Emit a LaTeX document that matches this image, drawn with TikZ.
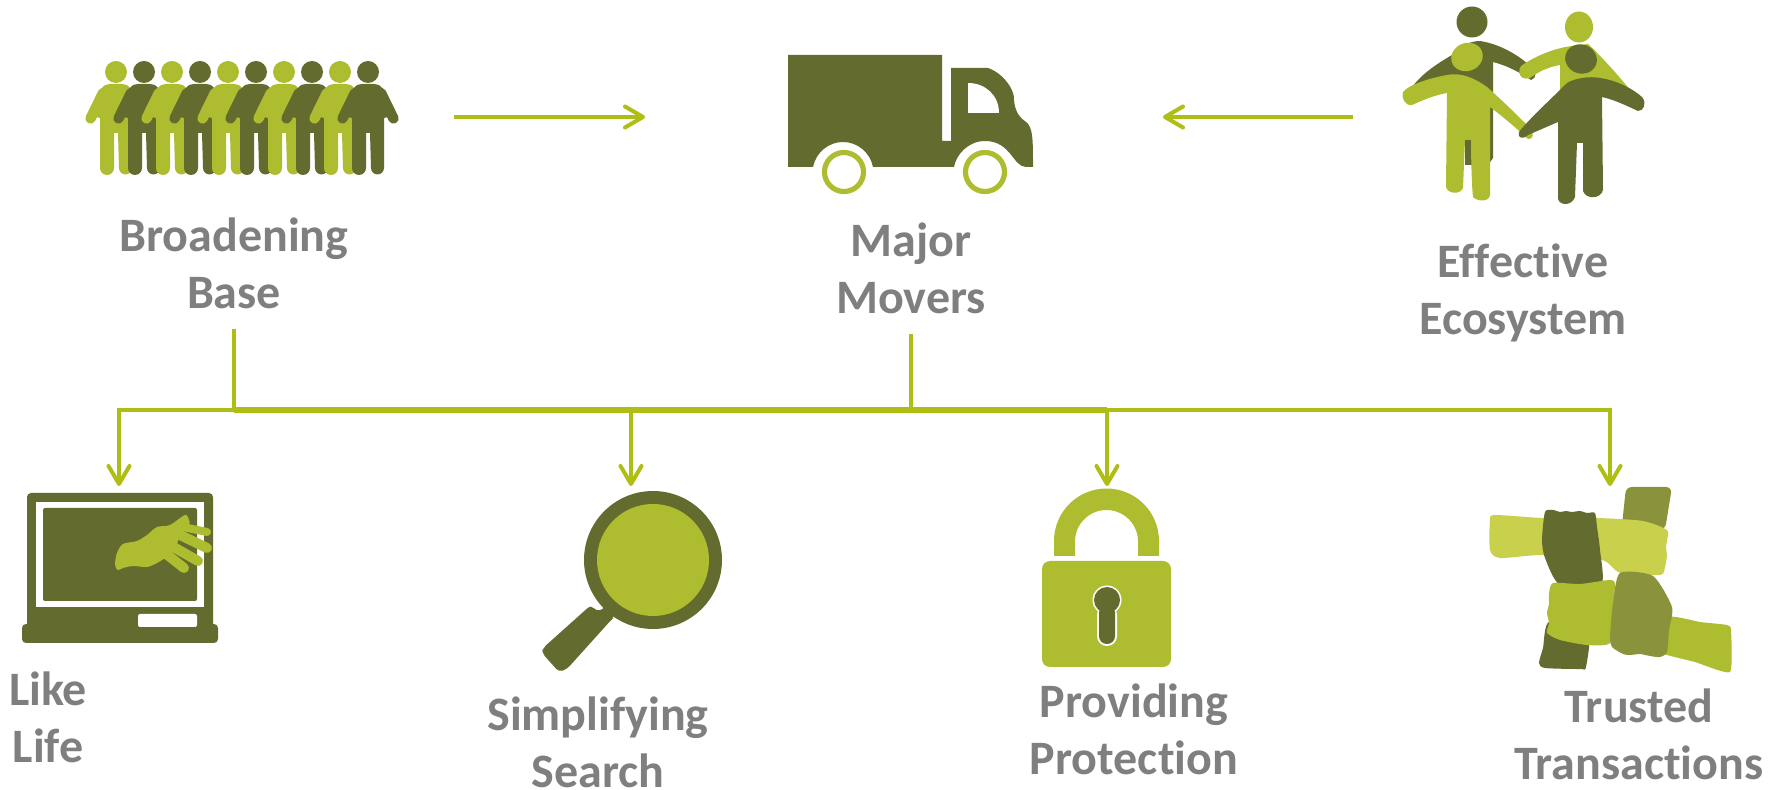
\documentclass[tikz,border=0pt]{standalone}
\usepackage{fontspec}
\setmainfont{Carlito}[Ligatures=CommonOff]
\usetikzlibrary{arrows.meta,calc,positioning}
\definecolor{leaf}{HTML}{AEBC2F}
\definecolor{olive}{HTML}{646B2E}
\definecolor{moss}{HTML}{8A933C}
\definecolor{lime}{HTML}{C9D04B}
\definecolor{wire}{HTML}{AEBE14}
\definecolor{caption}{HTML}{7F7F7F}
\tikzset{
  lbl/.style={font=\fontsize{24}{28.5}\selectfont\bfseries, text=caption, align=center, inner sep=0pt},
  link/.style={draw=wire, line width=2pt, -{Straight Barb[length=9pt,width=10.5pt,line width=2pt,round]}},
  rail/.style={draw=wire, line width=2pt},
  bus/.style={draw=wire, line width=2.9pt},
  limb/.style={line width=#1, line cap=round, line join=round},
  limb/.default=5.2pt
}
\newcommand{\figureman}[2]{% x of the head, colour
  \fill[#2] (#1,72) circle (11);
  \fill[#2] (#1-16,118) -- (#1-24,116) -- (#1-14,88) .. controls (#1-12,85) and (#1-9,84) .. (#1-6,84) -- (#1+6,84)
    .. controls (#1+9,84) and (#1+12,85) .. (#1+14,88) -- (#1+24,116) -- (#1+16,118) -- (#1+16,168) arc (0:180:6.5)
    -- (#1+2,133) -- (#1-2,133) -- (#1-2,168) arc (0:180:7) -- cycle;
  \draw[#2,limb] (#1-13,93) -- (#1-25.5,118.5);
  \draw[#2,limb] (#1+13,93) -- (#1+25.5,118.5);
}
\begin{document}
\begin{tikzpicture}[x=0.5pt,y=-0.5pt]
  \useasboundingbox (0,0) rectangle (1779,790);

  % crowd
  \foreach \cx/\cc in {116/leaf,144/olive,172/leaf,200/olive,228/leaf,256/olive,284/leaf,312/olive,340/leaf,368/olive}{
    \figureman{\cx}{\cc}
  }

  % truck
  \fill[olive] (788,55) -- (942,55) -- (942,141) -- (951,141) -- (951,68) -- (988,68)
    .. controls (1003,73) and (1015,90) .. (1014,100)
    .. controls (1015,112) and (1020,118) .. (1026,122)
    .. controls (1033,127) and (1033,140) .. (1033,167)
    -- (1026,167) .. controls (1013,167) and (1011,141) .. (985,141)
    .. controls (968,141) and (956,155) .. (954,167)
    -- (873,167) .. controls (870,152) and (857,142) .. (843,142)
    .. controls (829,142) and (816,152) .. (813,167) -- (788,167) -- cycle;
  \fill[white] (968,83) .. controls (985,83) and (999,95) .. (999,113) -- (968,113) -- cycle;
  \draw[leaf,line width=2.6pt] (844,172) circle (19.5);
  \draw[leaf,line width=2.6pt] (985,172) circle (19.5);

  % ecosystem people
  \fill[olive] (1472,22) circle (15.5);
  \fill[olive] (1410,90) .. controls (1420,75) and (1435,65) .. (1452,55)
    .. controls (1460,46) and (1470,41) .. (1480,41) .. controls (1500,44) and (1520,56) .. (1530,66)
    .. controls (1537,72) and (1537,78) .. (1531,80) .. controls (1520,72) and (1505,65) .. (1493,62)
    -- (1493,158) -- (1488,165) -- (1465,165) -- (1465,120) -- (1450,78) -- cycle;
  \fill[leaf] (1579,27) ellipse (14 and 15.5);
  \fill[leaf] (1521,66) .. controls (1535,56) and (1555,48) .. (1572,46) -- (1588,44)
    .. controls (1600,55) and (1618,75) .. (1631,91) -- (1598,85) -- (1560,90) -- (1560,65)
    .. controls (1548,67) and (1538,72) .. (1530,78) .. controls (1520,81) and (1517,72) .. (1521,66) -- cycle;
  \fill[leaf,rotate around={20:(1467,57)}] (1467,57) ellipse (16 and 14);
  \fill[leaf] (1403,92) .. controls (1408,85) and (1430,78) .. (1447,75) .. controls (1460,72) and (1475,78) .. (1487,87)
    .. controls (1505,103) and (1520,118) .. (1530,128) .. controls (1535,133) and (1533,140) .. (1528,139)
    .. controls (1525,136) and (1505,118) .. (1490,107) -- (1490,195)
    .. controls (1489,202) and (1478,202) .. (1473,197) .. controls (1472,190) and (1471,160) .. (1471,140)
    -- (1465,140) -- (1463,188) .. controls (1460,195) and (1448,194) .. (1446,187) -- (1447,93)
    .. controls (1435,95) and (1423,100) .. (1412,105) .. controls (1405,106) and (1401,98) .. (1403,92) -- cycle;
  \fill[olive,rotate around={-20:(1581,59)}] (1581,59) ellipse (16 and 14.5);
  \fill[olive] (1519,132) .. controls (1530,118) and (1550,100) .. (1567,83) .. controls (1575,78) and (1590,76) .. (1600,78)
    .. controls (1615,80) and (1632,88) .. (1642,97) .. controls (1647,103) and (1644,111) .. (1638,111)
    .. controls (1625,105) and (1615,100) .. (1602,97) -- (1603,190)
    .. controls (1601,199) and (1586,200) .. (1583,191) -- (1583,143) -- (1577,143) -- (1575,197)
    .. controls (1572,206) and (1560,206) .. (1558,199) -- (1558,122) -- (1528,135)
    .. controls (1523,140) and (1517,138) .. (1519,132) -- cycle;

  % laptop
  \fill[olive,rounded corners=2pt] (27,493) rectangle (213,630);
  \fill[olive,rounded corners=2pt] (22,624) rectangle (218,643);
  \fill[white] (36,502) rectangle (204,607);
  \fill[olive,rounded corners=1pt] (43,508) rectangle (197,601);
  \fill[white,rounded corners=1pt] (138,614) rectangle (197,627);
  \fill[leaf] plot[smooth cycle,tension=0.5] coordinates {(115,565) (117,553) (123,544) (137,541) (147,535) (157,527) (170,525) (185,515) (189,520) (189,525) (180,535) (175,550) (165,558) (157,563) (147,567) (133,566) (123,568) (118,570)};
  \draw[leaf,limb=4pt] (178,526) -- (207,532);
  \draw[leaf,limb=5pt] (178,534) -- (207,548);
  \draw[leaf,limb=5pt] (170,545) -- (198,561);
  \draw[leaf,limb=5pt] (165,553) -- (184,568);

  % magnifier
  \fill[olive] (653,560) circle (69);
  \fill[leaf] (653,560) circle (56);
  \fill[olive,rounded corners=2pt] (591,605) -- (596,611) -- (602,610) -- (607,605) -- (615,617) -- (612,619) -- (567,669) -- (559,672) -- (542,653) -- (543,648) -- cycle;

  % padlock
  \fill[leaf] (1054,556) -- (1054,541) arc (180:360:52.5) -- (1159,556) -- (1138,556) -- (1138,541.5) arc (360:180:31.5) -- (1075,556) -- cycle;
  \fill[leaf,rounded corners=4pt] (1042,561) rectangle (1171,667);
  \fill[white] (1107,600) circle (14.5);
  \fill[white,rounded corners=4.9pt] (1097,605) rectangle (1117,646);
  \fill[olive] (1107,600) circle (13);
  \fill[olive,rounded corners=3.9pt] (1099,605) rectangle (1115,644);

  % hands
  \fill[moss,rounded corners=3pt] (1626,487) -- (1672,487) -- (1665,530) -- (1622,525) -- cycle;
  \fill[lime] plot[smooth cycle,tension=0.4] coordinates {(1490,520) (1495,515) (1543,518) (1597,518) (1643,521) (1667,530) (1667,540) (1666,548) (1667,555) (1665,567) (1660,575) (1620,573) (1602,560) (1543,555) (1500,558) (1490,550)};
  \fill[olive] plot[smooth cycle,tension=0.4] coordinates {(1545,512) (1553,510) (1560,512) (1566,511) (1572,512) (1580,511) (1587,513) (1595,513) (1597,527) (1600,550) (1601,585) (1560,585) (1545,558) (1542,540)};
  \fill[olive] plot[smooth cycle,tension=0.4] coordinates {(1549,622) (1588,630) (1586,667) (1580,669) (1545,668) (1539,663) (1543,648)};
  \fill[leaf] plot[smooth cycle,tension=0.4] coordinates {(1553,583) (1580,584) (1610,580) (1615,585) (1612,615) (1610,643) (1587,645) (1560,640) (1547,633) (1549,623) (1547,613) (1549,604) (1549,594)};
  \fill[leaf] plot[smooth cycle,tension=0.3] coordinates {(1668,617) (1700,622) (1727,625) (1731,630) (1730,672) (1695,662) (1655,650)};
  \fill[moss] plot[smooth cycle,tension=0.4] coordinates {(1620,573) (1653,576) (1672,607) (1669,630) (1667,652) (1660,657) (1650,656) (1640,654) (1630,655) (1623,654) (1612,647) (1610,637) (1613,603)};

  % captions
  \node[lbl] (broadening) at (234,263) {Broadening\\Base};
  \node[lbl] (movers) at (911,268) {Major\\Movers};
  \node[lbl] (ecosystem) at (1523,293) {Effective\\Ecosystem};
  \node[lbl] (likelife) at (48,717) {Like\\Life};
  \node[lbl] (search) at (598,742) {Simplifying\\Search};
  \node[lbl] (protection) at (1134,729) {Providing\\Protection};
  \node[lbl] (transactions) at (1639,734) {Trusted\\Transactions};

  % junctions and ends of the arrows
  \coordinate (crowdr) at (454,117);
  \coordinate (truckl) at (645,117);
  \coordinate (truckr) at (1163,117);
  \coordinate (peoplel) at (1353,117);
  \coordinate (jbase) at (234,410);
  \coordinate (jmove) at (911,410);
  \coordinate (jlock) at (1107,410);
  \coordinate (tlaptop) at (119,486);
  \coordinate (tglass) at (631,486);
  \coordinate (tlock) at (1107,486);
  \coordinate (thands) at (1610,486);

  \draw[link] (crowdr) -- (truckl);
  \draw[link] (peoplel) -- (truckr);
  \draw[rail] ($(broadening.south)+(0,20)$) -- (jbase);
  \draw[rail] ($(movers.south)+(0,20)$) -- (jmove);
  \draw[bus] (jbase) -- (jlock);
  \draw[link] (jbase) -| (tlaptop);
  \draw[link] (jbase) -| (tglass);
  \draw[link] (jbase) -| (tlock);
  \draw[link] (jmove) -| (thands);
\end{tikzpicture}
\end{document}
